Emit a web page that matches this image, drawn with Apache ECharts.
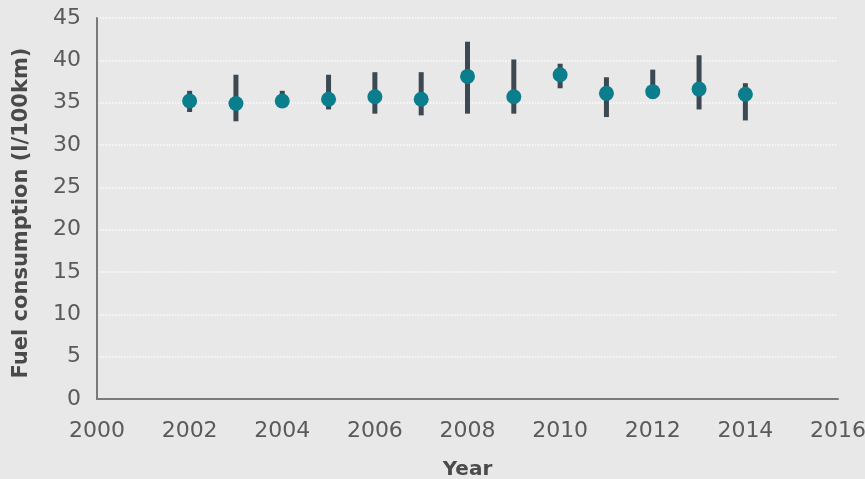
<!DOCTYPE html>
<html>
<head>
<meta charset="utf-8">
<script src="https://cdn.jsdelivr.net/npm/echarts@6/dist/echarts.min.js"></script>
<style>
  html, body { margin: 0; padding: 0; background: #e8e8e8; }
  #chart { width: 865px; height: 479px; }
</style>
</head>
<body>
<div id="chart"></div>
<script>
// Average fuel consumption per year with its spread (low / high)
const years = [2002, 2003, 2004, 2005, 2006, 2007, 2008, 2009, 2010, 2011, 2012, 2013, 2014];
const meanValues = [35.2, 34.9, 35.2, 35.4, 35.7, 35.4, 38.1, 35.7, 38.3, 36.1, 36.3, 36.6, 36.0];
const lowValues  = [33.9, 32.8, 34.4, 34.2, 33.7, 33.5, 33.7, 33.7, 36.7, 33.3, 35.7, 34.2, 32.9];
const highValues = [36.4, 38.3, 36.4, 38.3, 38.6, 38.6, 42.2, 40.1, 39.6, 38.0, 38.9, 40.6, 37.3];
const xTicks = { min: 2000, max: 2016, step: 2 };
const yTicks = { min: 0, max: 45, step: 5 };
const yTitle = 'Fuel consumption (l/100km)';
const xTitle = 'Year';

const font = '"DejaVu Sans", "Open Sans", sans-serif';
const chart = echarts.init(document.getElementById('chart'), null, { renderer: 'canvas' });

const rangeData = years.map((y, i) => [y, lowValues[i], highValues[i]]);
const pointData = years.map((y, i) => [y, meanValues[i]]);

chart.setOption({
  backgroundColor: '#e8e8e8',
  animation: false,
  grid: { left: 97, right: 27, top: 18, bottom: 80, containLabel: false, outerBoundsMode: 'none' },
  graphic: [{
    type: 'text',
    x: 22,
    y: 213,
    rotation: Math.PI / 2,
    style: {
      text: yTitle,
      fontFamily: font,
      fontSize: 21,
      fontWeight: 'bold',
      fill: '#4a4a4a',
      align: 'center',
      verticalAlign: 'middle'
    }
  }],
  xAxis: {
    type: 'value',
    min: xTicks.min,
    max: xTicks.max,
    interval: xTicks.step,
    name: xTitle,
    nameLocation: 'middle',
    nameGap: 61,
    nameTextStyle: { fontFamily: font, fontSize: 20, fontWeight: 'bold', color: '#4a4a4a' },
    axisLine: { lineStyle: { color: '#7a7a7a', width: 2 } },
    axisTick: { show: false },
    splitLine: { show: false },
    axisLabel: { fontFamily: font, fontSize: 22, color: '#5a5a5a', margin: 21, formatter: v => String(v) }
  },
  yAxis: {
    type: 'value',
    min: yTicks.min,
    max: yTicks.max,
    interval: yTicks.step,
    axisLine: { show: true, lineStyle: { color: '#7a7a7a', width: 2 } },
    axisTick: { show: false },
    axisLabel: { fontFamily: font, fontSize: 22, color: '#5a5a5a', margin: 16 },
    splitLine: { show: true, lineStyle: { color: '#ffffff', type: 'dotted', width: 1.5, opacity: 0.85 } }
  },
  series: [
    {
      type: 'custom',
      data: rangeData,
      z: 2,
      renderItem: function (params, api) {
        const x = api.value(0);
        const top = api.coord([x, api.value(2)]);
        const bottom = api.coord([x, api.value(1)]);
        const w = 5;
        return {
          type: 'rect',
          shape: { x: top[0] - w / 2, y: top[1], width: w, height: bottom[1] - top[1] },
          style: { fill: '#3c4852' }
        };
      },
      encode: { x: 0, y: [1, 2] }
    },
    {
      type: 'scatter',
      data: pointData,
      z: 3,
      symbol: 'circle',
      symbolSize: 15,
      itemStyle: { color: '#0a7e8c', opacity: 1 }
    }
  ]
});
</script>
</body>
</html>
